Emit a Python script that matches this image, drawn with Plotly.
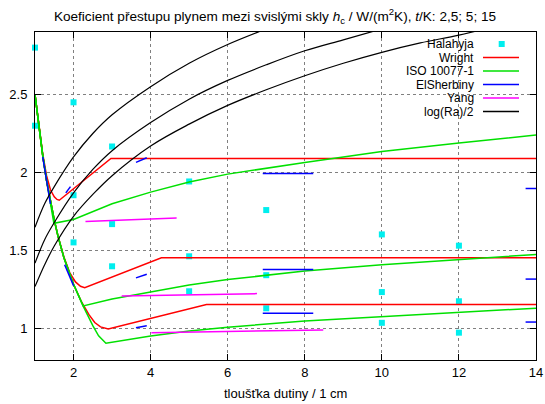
import plotly.graph_objects as go

# ------------------------------------------------------------------
# Data
# gap thickness x in cm, heat transfer coefficient h_c in W/(m2K)
# three temperature differences: 2.5, 5 and 15 K
# ------------------------------------------------------------------
halahyja_x = [1, 1, 2, 2, 2, 3, 3, 3, 5, 5, 5, 7, 7, 7, 10, 10, 10, 12, 12, 12]
halahyja_y = [2.80, 2.30, 2.45, 1.855, 1.553, 2.167, 1.67, 1.40, 1.943, 1.464, 1.24,
              1.76, 1.343, 1.131, 1.604, 1.235, 1.038, 1.532, 1.176, 0.975]

# Wright
wright15_x = [1, 1.1, 1.2, 1.3, 1.4, 1.5, 1.57, 1.63, 2.97, 14]
wright15_y = [2.5, 2.29, 2.12, 1.98, 1.89, 1.845, 1.828, 1.823, 2.09, 2.09]
wright5_x = [1, 1.1, 1.2, 1.3, 1.4, 1.5, 1.6, 1.75, 1.9, 2.05, 2.18, 2.29, 4.28, 14]
wright5_y = [2.5, 2.29, 2.11, 1.95, 1.815, 1.695, 1.59, 1.46, 1.36, 1.30, 1.272, 1.263, 1.454, 1.454]
wright25_x = [1, 1.1, 1.2, 1.3, 1.4, 1.5, 1.6, 1.75, 2.0, 2.2, 2.4, 2.55, 2.7, 2.9, 5.45, 14]
wright25_y = [2.5, 2.29, 2.11, 1.95, 1.815, 1.695, 1.59, 1.455, 1.285, 1.175, 1.09, 1.04, 1.012, 0.998, 1.155, 1.155]

# ISO 10077-1
iso15_x = [1, 1.1, 1.2, 1.3, 1.4, 1.49, 2, 3, 4, 5, 6, 8, 10, 12, 14]
iso15_y = [2.5, 2.29, 2.11, 1.95, 1.815, 1.675, 1.70, 1.80, 1.875, 1.94, 1.99, 2.065, 2.135, 2.19, 2.24]
iso5_x = [1, 1.1, 1.2, 1.3, 1.4, 1.5, 1.6, 1.75, 2.0, 2.25, 3, 3.5, 4, 5, 6, 8, 10, 12, 14]
iso5_y = [2.5, 2.29, 2.11, 1.95, 1.815, 1.695, 1.59, 1.455, 1.285, 1.146, 1.19, 1.212, 1.235,
          1.28, 1.315, 1.37, 1.41, 1.445, 1.476]
iso25_x = [1, 1.1, 1.2, 1.3, 1.4, 1.5, 1.6, 1.75, 2.0, 2.25, 2.5, 2.65, 2.84, 3, 4, 5, 6, 8, 10, 12, 14]
iso25_y = [2.5, 2.29, 2.11, 1.95, 1.815, 1.695, 1.59, 1.455, 1.285, 1.145, 1.02, 0.955, 0.907,
           0.913, 0.953, 0.985, 1.01, 1.05, 1.078, 1.107, 1.132]

# ElSherbiny (short validity segments, None separates them)
elsh15_x = [1.2, 1.3, 1.4, None, 1.80, 1.92, None, 3.62, 3.90, None, 6.91, 8.22, None, 13.73, 14]
elsh15_y = [2.10, 1.94, 1.80, None, 1.87, 1.91, None, 2.065, 2.095, None, 1.994, 1.994, None, 1.898, 1.898]
elsh5_x = [1.77, 1.88, 2.0, None, 3.62, 3.90, None, 6.91, 8.22, None, 13.73, 14]
elsh5_y = [1.41, 1.34, 1.275, None, 1.326, 1.349, None, 1.379, 1.379, None, 1.318, 1.318]
elsh25_x = [3.62, 3.90, None, 6.91, 8.22, None, 13.73, 14]
elsh25_y = [1.006, 1.019, None, 1.10, 1.10, None, 1.043, 1.043]

# Yang
yang15_x = [2.31, 4.675]
yang15_y = [1.686, 1.709]
yang5_x = [3.25, 6.76]
yang5_y = [1.21, 1.225]
yang25_x = [4.02, 8.48]
yang25_y = [0.975, 0.992]

# log(Ra)/2
lra15_x = [1, 1.25, 1.5, 2, 2.5, 3, 4, 5, 6, 7]
lra15_y = [1.65, 1.80, 1.91, 2.10, 2.25, 2.37, 2.55, 2.70, 2.82, 2.92]
lra5_x = [1, 1.25, 1.5, 2, 2.5, 3, 4, 5, 6, 7, 8, 9, 10]
lra5_y = [1.42, 1.57, 1.68, 1.87, 2.02, 2.14, 2.32, 2.47, 2.59, 2.69, 2.78, 2.85, 2.92]
lra25_x = [1, 1.25, 1.5, 2, 2.5, 3, 4, 5, 6, 7, 8, 9, 10, 11, 12, 13]
lra25_y = [1.27, 1.41, 1.53, 1.72, 1.86, 1.98, 2.17, 2.31, 2.43, 2.53, 2.62, 2.70, 2.77, 2.83, 2.88, 2.94]

x_ticks = [2, 4, 6, 8, 10, 12, 14]
y_ticks = [1, 1.5, 2, 2.5]
y_tick_text = ["1", "1.5", "2", "2.5"]

legend_names = ["Halahyja", "Wright", "ISO 10077-1", "ElSherbiny", "Yang", "log(Ra)/2"]
colors = ["#00eeee", "#ff0000", "#00e000", "#0000ff", "#ff00ff", "#000000"]


def join(*curves):
    xs, ys = [], []
    for cx, cy in curves:
        if xs:
            xs.append(None)
            ys.append(None)
        xs += list(cx)
        ys += list(cy)
    return xs, ys


fig = go.Figure()

fig.add_trace(go.Scatter(x=halahyja_x, y=halahyja_y, mode="markers", name=legend_names[0],
                         marker=dict(symbol="square", size=6, color=colors[0], line=dict(width=0)),
                         cliponaxis=False))

wx, wy = join((wright15_x, wright15_y), (wright5_x, wright5_y), (wright25_x, wright25_y))
fig.add_trace(go.Scatter(x=wx, y=wy, mode="lines", name=legend_names[1],
                         line=dict(color=colors[1], width=1.5)))

ix, iy = join((iso15_x, iso15_y), (iso5_x, iso5_y), (iso25_x, iso25_y))
fig.add_trace(go.Scatter(x=ix, y=iy, mode="lines", name=legend_names[2],
                         line=dict(color=colors[2], width=1.5)))

ex, ey = join((elsh15_x, elsh15_y), (elsh5_x, elsh5_y), (elsh25_x, elsh25_y))
fig.add_trace(go.Scatter(x=ex, y=ey, mode="lines", name=legend_names[3],
                         line=dict(color=colors[3], width=1.5), connectgaps=False))

yx, yy = join((yang15_x, yang15_y), (yang5_x, yang5_y), (yang25_x, yang25_y))
fig.add_trace(go.Scatter(x=yx, y=yy, mode="lines", name=legend_names[4],
                         line=dict(color=colors[4], width=1.5)))

lx, ly = join((lra15_x, lra15_y), (lra5_x, lra5_y), (lra25_x, lra25_y))
fig.add_trace(go.Scatter(x=lx, y=ly, mode="lines", name=legend_names[5],
                         line=dict(color=colors[5], width=1.2, shape="spline")))

# ---- gnuplot-like key: text right-aligned, sample to the right ----
PL, PW, PT, PH = 35, 501, 32, 328          # plot area in pixels


def px_x(p):
    return (p - PL) / PW


def px_y(p):
    return (PT + PH - p) / PH


shapes = [dict(type="rect", xref="paper", yref="paper",
               x0=px_x(390), x1=px_x(527), y0=px_y(116), y1=px_y(38),
               fillcolor="white", line=dict(width=0), layer="between")]
annotations = []
row_y = [44, 57.5, 71, 84.5, 98, 111.5]
for i, name in enumerate(legend_names):
    yp = px_y(row_y[i])
    annotations.append(dict(text=name, xref="paper", yref="paper", x=px_x(475), y=yp,
                            xanchor="right", yanchor="middle", showarrow=False, borderpad=0,
                            font=dict(size=12, color="black")))
    if i == 0:
        shapes.append(dict(type="rect", xref="paper", yref="paper",
                           x0=px_x(498.7), x1=px_x(504.7), y0=px_y(row_y[i] + 3), y1=px_y(row_y[i] - 3),
                           fillcolor=colors[0], line=dict(width=0), layer="above"))
    else:
        shapes.append(dict(type="line", xref="paper", yref="paper",
                           x0=px_x(483), x1=px_x(519), y0=yp, y1=yp,
                           line=dict(color=colors[i], width=1.5), layer="above"))

# x-axis title placed like gnuplot's xlabel
annotations.append(dict(text="tloušťka dutiny / 1 cm", xref="paper", yref="paper",
                        x=px_x(285), y=px_y(393), xanchor="center", yanchor="middle",
                        showarrow=False, font=dict(size=13, color="black")))

fig.update_layout(
    width=545, height=404,
    margin=dict(l=PL, r=545 - PL - PW, t=PT, b=404 - PT - PH, autoexpand=False),
    paper_bgcolor="white", plot_bgcolor="white",
    font=dict(family="Liberation Sans, Arial, sans-serif", size=13, color="black"),
    showlegend=False,
    title=dict(text="Koeficient přestupu plynem mezi svislými skly <i>h</i><sub>c</sub> / W/(m<sup>2</sup>K), <i>t</i>/K: 2,5; 5; 15",
               x=px_x(275), xref="paper", xanchor="center",
               y=1 - 16 / 404, yref="container", yanchor="middle",
               font=dict(size=13.6)),
    shapes=shapes,
    annotations=annotations,
)

axis_common = dict(showline=True, linecolor="black", linewidth=1, mirror="ticks",
                   ticks="inside", ticklen=6, tickcolor="black", tickwidth=1,
                   showgrid=True, gridcolor="#808080", gridwidth=1, griddash="dot",
                   zeroline=False, automargin=False, ticklabeloverflow="allow")

fig.update_xaxes(range=[1, 14], tickvals=x_ticks, ticklabelstandoff=0, **axis_common)
fig.update_yaxes(range=[0.8, 2.9], tickvals=y_ticks, ticktext=y_tick_text, ticklabelstandoff=4,
                 **axis_common)

# the page body gets no default margin, so the figure sits at the window's corner
fig.write_html("out.html", config={"displayModeBar": False},
               post_script="document.body.style.margin='0px';")
